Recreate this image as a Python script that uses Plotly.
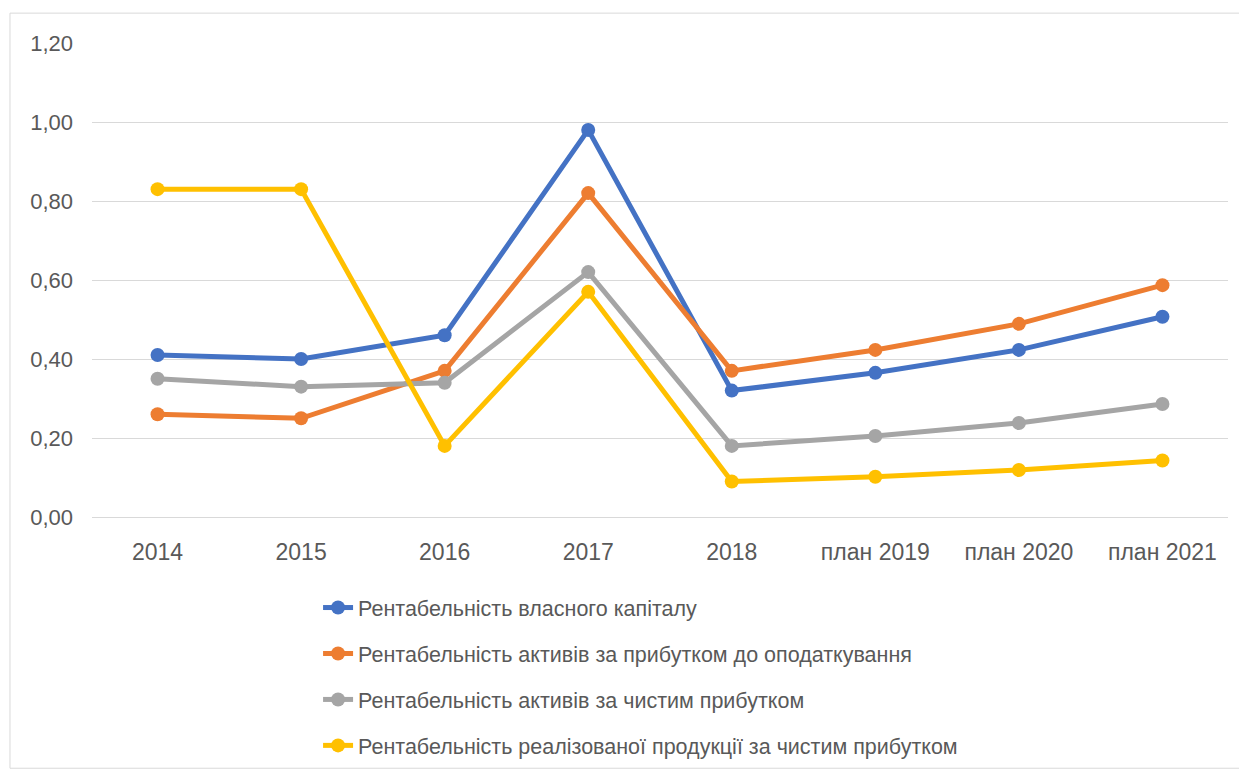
import plotly.graph_objects as go

categories = ["2014", "2015", "2016", "2017", "2018", "план 2019", "план 2020", "план 2021"]
roe = [0.41, 0.40, 0.46, 0.98, 0.32, 0.365, 0.423, 0.507]
roa_pretax = [0.26, 0.25, 0.37, 0.82, 0.37, 0.423, 0.489, 0.587]
roa_net = [0.35, 0.33, 0.34, 0.62, 0.18, 0.205, 0.238, 0.286]
ros_net = [0.83, 0.83, 0.18, 0.57, 0.09, 0.102, 0.119, 0.143]

series_names = [
    "Рентабельність власного капіталу",
    "Рентабельність активів за прибутком до оподаткування",
    "Рентабельність активів за чистим прибутком",
    "Рентабельність реалізованої продукції за чистим прибутком",
]
series_values = [roe, roa_pretax, roa_net, ros_net]
colors = ["#4472C4", "#ED7D31", "#A5A5A5", "#FFC000"]

fig = go.Figure()
for i, (name, vals, c) in enumerate(zip(series_names, series_values, colors)):
    fig.add_trace(go.Scatter(
        x=categories, y=vals, name=name, mode="lines+markers",
        line=dict(color=c, width=5),
        marker=dict(color=c, size=14),
        legendgroup=f"g{i}",
    ))

fig.update_layout(
    width=1247, height=769,
    margin=dict(l=84, r=27, t=35, b=260),
    paper_bgcolor="white", plot_bgcolor="white",
    separators=", ",
    font=dict(family="Liberation Sans, Arial, sans-serif", color="#595959"),
    showlegend=True,
    legend=dict(
        orientation="v", xref="paper", x=0.199, yref="container", y=0.247,
        xanchor="left", yanchor="top",
        font=dict(size=21.5, color="#595959"), tracegroupgap=15,
        bgcolor="rgba(0,0,0,0)",
    ),
    xaxis=dict(
        type="category", showgrid=False, zeroline=False, showline=False,
        tickfont=dict(size=23, color="#595959"), ticks="", ticklabelstandoff=19,
    ),
    yaxis=dict(
        range=[0, 1.2], dtick=0.2, tickformat=".2f", showgrid=True,
        gridcolor="#D9D9D9", gridwidth=1, zeroline=True, zerolinecolor="#D9D9D9",
        zerolinewidth=1, showline=False, tickfont=dict(size=22, color="#595959"),
        ticks="", ticklabelstandoff=18,
    ),
    shapes=[dict(
        type="rect", xref="paper", yref="paper",
        x0=-0.0722, x1=1.0106, y0=-0.53, y1=1.063,
        line=dict(color="#D9D9D9", width=1), fillcolor="rgba(0,0,0,0)", layer="below",
    )],
)

fig.write_html("out.html")
